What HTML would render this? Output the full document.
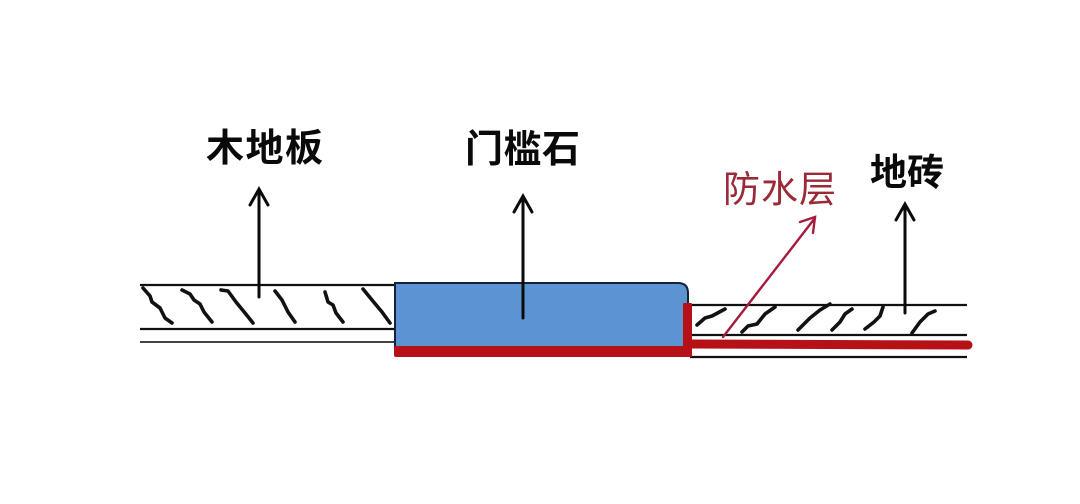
<!DOCTYPE html>
<html>
<head>
<meta charset="utf-8">
<style>
html,body{margin:0;padding:0;background:#fff;}
svg{display:block;}
text{font-family:"Liberation Sans","Noto Sans CJK SC",sans-serif;}
</style>
</head>
<body>
<svg width="1080" height="504" viewBox="0 0 1080 504" xmlns="http://www.w3.org/2000/svg">
  <rect width="1080" height="504" fill="#ffffff"/>

  <!-- Labels -->
  <text x="206" y="161" font-size="38" font-weight="bold" fill="#0a0a0a" letter-spacing="1.5">木地板</text>
  <text x="465" y="162" font-size="38" font-weight="bold" fill="#0a0a0a" letter-spacing="0.5">门槛石</text>
  <text x="723" y="202" font-size="37" fill="#9b2a38" letter-spacing="1">防水层</text>
  <text x="870" y="185" font-size="37" font-weight="bold" fill="#0a0a0a">地砖</text>

  <!-- Left wood floor lines -->
  <line x1="140" y1="285" x2="396" y2="285" stroke="#111" stroke-width="2.2"/>
  <line x1="140" y1="329" x2="396" y2="329" stroke="#111" stroke-width="2.2"/>
  <line x1="140" y1="342" x2="396" y2="342" stroke="#444" stroke-width="2"/>

  <!-- Left hatches -->
  <g fill="none" stroke="#111" stroke-width="3.6" stroke-linecap="round" stroke-linejoin="round">
    <path d="M143,288 L150,296 L152,302 L160,308 L165,318 L172,323"/>
    <path d="M182,290 L190,294 L194,300 L200,304 L204,312 L212,322"/>
    <path d="M221,290 L228,291 L236,302 L245,313 L253,323"/>
    <path d="M275,291 L282,300 L288,312 L295,322"/>
    <path d="M325,292 L328,302 L333,305 L336,313 L343,322"/>
    <path d="M363,289 L372,300 L382,312 L390,323"/>
  </g>

  <!-- Right tile floor lines -->
  <line x1="690" y1="305" x2="967" y2="305" stroke="#111" stroke-width="2.2"/>
  <line x1="690" y1="335" x2="967" y2="335" stroke="#111" stroke-width="2.2"/>
  <line x1="690" y1="357" x2="967" y2="357" stroke="#111" stroke-width="2.2"/>

  <!-- Right hatches -->
  <g fill="none" stroke="#111" stroke-width="3.6" stroke-linecap="round" stroke-linejoin="round">
    <path d="M697,325 L705,318 L712,316 L725,309"/>
    <path d="M742,332 L748,326 L757,324 L765,314 L775,307"/>
    <path d="M798,330 L810,318 L820,310 L830,304"/>
    <path d="M832,330 L840,322 L845,314 L852,309"/>
    <path d="M865,329 L874,322 L880,316 L883,307"/>
    <path d="M912,333 L920,322 L928,314 L935,311"/>
  </g>

  <!-- Threshold stone (blue) -->
  <path d="M395,348 V283 H678 Q688,283 688,293 V348 Z" fill="#5b94d1" stroke="#14223f" stroke-width="2"/>

  <!-- Waterproof layer (red) -->
  <rect x="394" y="346" width="298" height="11" rx="2" fill="#b71118"/>
  <rect x="683" y="303" width="9" height="54" rx="1" fill="#b71118"/>
  <line x1="690" y1="344" x2="968" y2="345" stroke="#b71118" stroke-width="9" stroke-linecap="round"/>

  <!-- Black arrows -->
  <g fill="none" stroke="#0a0a0a" stroke-width="3" stroke-linecap="round" stroke-linejoin="miter">
    <line x1="259" y1="297" x2="259" y2="190"/>
    <polyline points="250,205 259,189 268,205"/>
    <line x1="523" y1="318" x2="523" y2="197"/>
    <polyline points="514,212 523,196 532,212"/>
    <line x1="905" y1="313" x2="905" y2="205"/>
    <polyline points="896,220 905,204 914,220"/>
  </g>

  <!-- Red arrow -->
  <g fill="none" stroke="#a51c3c" stroke-width="2.4" stroke-linecap="round">
    <line x1="723" y1="337" x2="815" y2="218"/>
    <polyline points="800,222 815,217 813,233"/>
  </g>
</svg>
</body>
</html>
